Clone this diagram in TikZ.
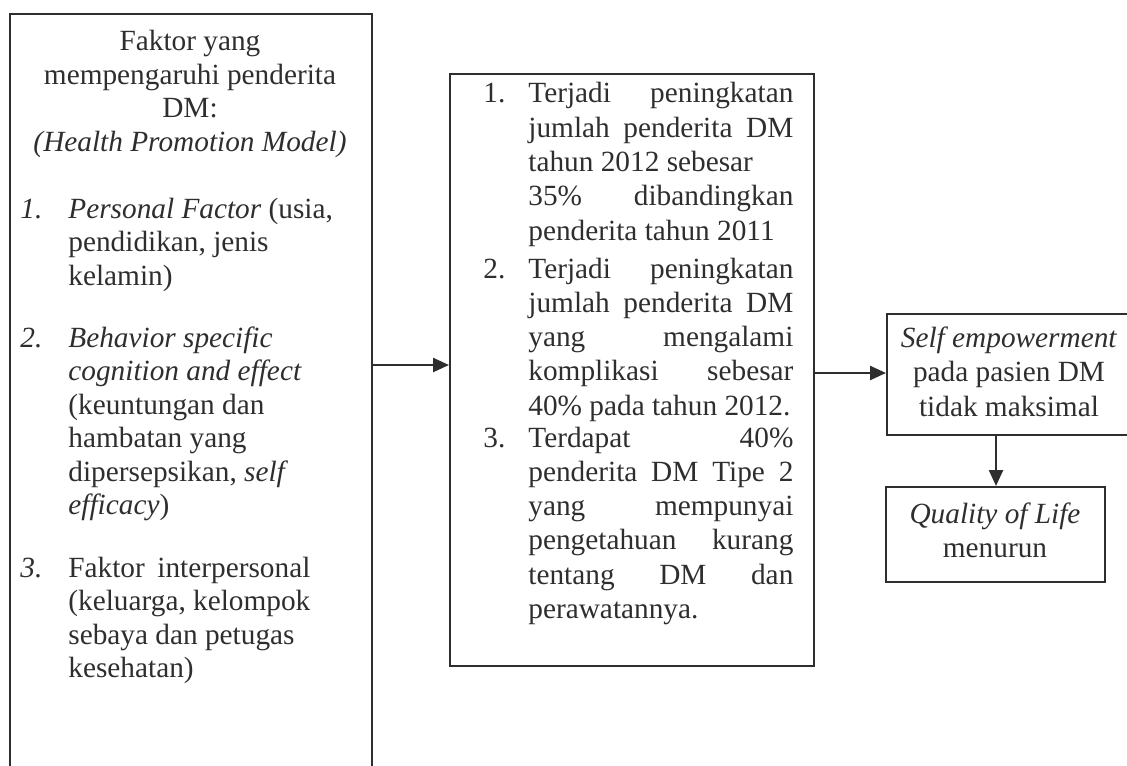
\documentclass[tikz,border=0pt]{standalone}
\usepackage{fontspec}
\setmainfont{Liberation Serif}
\usetikzlibrary{arrows.meta}
\definecolor{ink}{HTML}{2E2E2E}
% a line stretched to the full width of the middle column
\newcommand\jl[1]{\makebox[132.5pt][s]{#1}}

\begin{document}
\begin{tikzpicture}[x=0.5pt,y=-0.5pt,
  box/.style={draw=ink, line width=1.2pt, rectangle, inner sep=0pt, anchor=north west},
  txt/.style={inner sep=0pt, text=ink},
  lft/.style={txt, font=\fontsize{14.65}{16.75}\selectfont},
  mid/.style={txt, font=\fontsize{14.65}{17.15}\selectfont},
  rgt/.style={txt, font=\fontsize{14.65}{17.3}\selectfont},
  arr/.style={draw=ink, line width=1.2pt, -{Triangle[length=8pt,width=7pt]}}]

\useasboundingbox (0,0) rectangle (1127,765);
\clip (0,0) rectangle (1127,765);

% frames
\node[box, minimum width=181pt, minimum height=400pt] (lf) at (9,13) {};
\node[box, minimum width=182pt, minimum height=296pt] (md) at (449,73) {};
\node[box, minimum width=123.5pt, minimum height=60.5pt] (sem) at (886,313) {};
\node[box, minimum width=109.5pt, minimum height=47.5pt] (qol) at (885,486) {};

% left column: factors
\node[lft, anchor=base, text width=181pt, align=flush center] (hd) at (190,50.7)
  {Faktor yang\\ mempengaruhi penderita\\ DM:\\ \textit{(Health Promotion Model)}};
\node[lft, anchor=base west] (n1) at (20,218) {\textit{1.}};
\node[lft, anchor=base west, text width=150pt, align=flush left] (i1) at (68,218)
  {\textit{Personal Factor} (usia,\\ pendidikan, jenis\\ kelamin)};
\node[lft, anchor=base west] (n2) at (20,347) {\textit{2.}};
\node[lft, anchor=base west, text width=150pt, align=flush left] (i2) at (68,347)
  {\textit{Behavior specific}\\ \textit{cognition and effect}\\ (keuntungan dan\\
   hambatan yang\\ dipersepsikan, \textit{self}\\ \textit{efficacy})};
\node[lft, anchor=base west] (n3) at (20,577) {\textit{3.}};
\node[lft, anchor=base west, text width=150pt, align=flush left] (i3) at (68,577)
  {\makebox[121pt][s]{Faktor interpersonal}\\ (keluarga, kelompok\\
   sebaya dan petugas\\ kesehatan)};

% middle column: problems
\node[mid, anchor=base west] (m1) at (483,103) {1.};
\node[mid, anchor=base west, text width=145pt, align=flush left] (t1) at (528,103)
  {\jl{Terjadi peningkatan}\\ \jl{jumlah penderita DM}\\ tahun 2012 sebesar\\
   \jl{35\% dibandingkan}\\ penderita tahun 2011};
\node[mid, anchor=base west] (m2) at (483,278) {2.};
\node[mid, anchor=base west, text width=145pt, align=flush left] (t2) at (528,278)
  {\jl{Terjadi peningkatan}\\ \jl{jumlah penderita DM}\\ \jl{yang mengalami}\\
   \jl{komplikasi sebesar}\\ 40\% pada tahun 2012.};
\node[mid, anchor=base west] (m3) at (483,447) {3.};
\node[mid, anchor=base west, text width=145pt, align=flush left] (t3) at (528,447)
  {\jl{Terdapat 40\%}\\ \jl{penderita DM Tipe 2}\\ \jl{yang mempunyai}\\
   \jl{pengetahuan kurang}\\ \jl{tentang DM dan}\\ perawatannya.};

% right column: outcomes
\node[rgt, anchor=base, text width=123.5pt, align=flush center] (st) at (1009,347)
  {\textit{Self empowerment}\\ pada pasien DM\\ tidak maksimal};
\node[rgt, anchor=base, text width=109.5pt, align=flush center] (qt) at (995,523)
  {\textit{Quality of Life}\\ menurun};

% connectors
\coordinate (a1) at (0,365);
\coordinate (a2) at (0,373);
\coordinate (a3) at (996,0);
\draw[arr] (a1 -| lf.east) -- (a1 -| md.west);
\draw[arr] (a2 -| md.east) -- (a2 -| sem.west);
\draw[arr] (a3 |- sem.south) -- (a3 |- qol.north);
\end{tikzpicture}
\end{document}
